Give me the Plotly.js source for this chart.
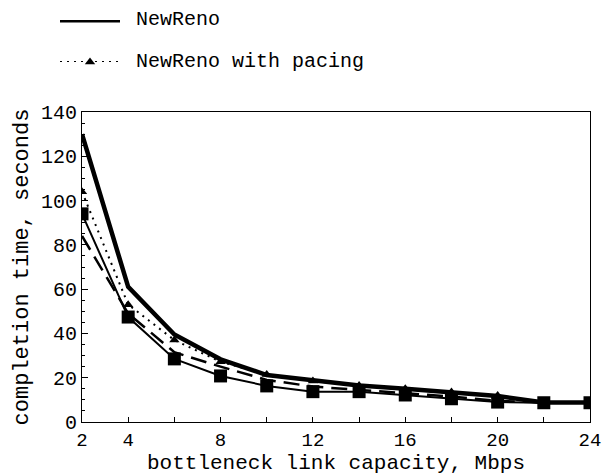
<!DOCTYPE html>
<html>
<head>
<meta charset="utf-8">
<script src="https://cdn.plot.ly/plotly-3.0.1.min.js"></script>
<style>html,body{margin:0;padding:0;background:#fff;}#chart{width:608px;height:475px;}</style>
</head>
<body>
<div id="chart"></div>
<script>
// Data
const capacity = [2, 4, 6, 8, 10, 12, 14, 16, 18, 20, 22, 24];
const newReno = [130, 61, 39.5, 28.3, 21.2, 19, 16.5, 15, 13.4, 11.7, 8.8, 8.8];
const newRenoPacing = [104, 53, 37, 27.2, 21.5, 18.5, 16.5, 15, 13.6, 12, 8.8, 8.8];
const dashedSeries = [84, 49, 31.5, 25, 19, 16, 14.5, 13, 11.5, 9.5, 8.8, 8.8];
const squareSeries = [94, 47.4, 28.5, 20.8, 16.3, 13.7, 13.7, 12.2, 10.5, 9, 8.7, 8.7];
const xTickVals = [2, 4, 6, 8, 10, 12, 14, 16, 18, 20, 22, 24];
const xTickText = ['2', '4', '', '8', '', '12', '', '16', '', '20', '', '24'];
const legendNames = ['NewReno', 'NewReno with pacing'];

const FONT = 'Liberation Mono, Courier New, monospace';
const W = 608, H = 475, ML = 10, MR = 18, MT = 6, MB = 53;
const PW = W - ML - MR, PH = H - MT - MB;
const px = v => (v - ML) / PW;          // pixel x -> paper x
const py = v => (H - MB - v) / PH;      // pixel y -> paper y
const PLOT_LEFT = 82, PLOT_TOP = 112;

const traces = [
  {x: capacity, y: newReno, mode: 'lines', line: {color: '#000', width: 4.5}, showlegend: false},
  {x: capacity, y: newRenoPacing, mode: 'lines+markers', line: {color: '#000', width: 2, dash: '2px,5px'},
   marker: {symbol: 'triangle-up', size: 9, color: '#000'}, showlegend: false},
  {x: capacity, y: dashedSeries, mode: 'lines', line: {color: '#000', width: 2.5, dash: '16px,8px'}, showlegend: false},
  {x: capacity, y: squareSeries, mode: 'lines+markers', line: {color: '#000', width: 2},
   marker: {symbol: 'square', size: 13, color: '#000'}, showlegend: false},
  // legend samples on a helper axis
  {x: [0, 1], y: [1, 1], xaxis: 'x2', yaxis: 'y2', mode: 'lines', line: {color: '#000', width: 5},
   showlegend: false, hoverinfo: 'skip', cliponaxis: false},
  {x: [0, 1], y: [0, 0], xaxis: 'x2', yaxis: 'y2', mode: 'lines',
   line: {color: '#000', width: 2, dash: '2px,5px'}, showlegend: false, hoverinfo: 'skip', cliponaxis: false},
  {x: [0.5], y: [0], xaxis: 'x2', yaxis: 'y2', mode: 'markers', cliponaxis: false,
   marker: {symbol: 'triangle-up', size: 9, color: '#000'}, showlegend: false, hoverinfo: 'skip'}
];

const layout = {
  width: W, height: H,
  margin: {l: ML, r: MR, t: MT, b: MB, pad: 0},
  paper_bgcolor: '#fff', plot_bgcolor: 'rgba(0,0,0,0)',
  showlegend: false,
  font: {family: FONT, color: '#000', size: 19},
  xaxis: {
    domain: [px(PLOT_LEFT), 1], anchor: 'y',
    range: [2, 24], tickmode: 'array', tickvals: xTickVals, ticktext: xTickText,
    ticks: 'inside', ticklen: 5, tickcolor: '#000', showgrid: false, zeroline: false,
    showline: true, linecolor: '#000', linewidth: 1, mirror: true,
    tickfont: {family: FONT, size: 19},
    title: {text: 'bottleneck link capacity, Mbps', font: {family: FONT, size: 21}, standoff: 4}
  },
  yaxis: {
    domain: [0, py(PLOT_TOP)], anchor: 'x',
    range: [0, 140], dtick: 20, ticks: 'inside', ticklen: 6, tickcolor: '#000',
    minor: {dtick: 5, ticks: 'inside', ticklen: 3, tickcolor: '#000', showgrid: false},
    showgrid: false, zeroline: false,
    showline: true, linecolor: '#000', linewidth: 1, mirror: true,
    tickfont: {family: FONT, size: 20},
    title: {text: 'completion time, seconds', font: {family: FONT, size: 22}, standoff: 6}
  },
  xaxis2: {domain: [px(60), px(120)], range: [0, 1], anchor: 'y2', visible: false, fixedrange: true},
  yaxis2: {domain: [py(62), py(20)], range: [0, 1], anchor: 'x2', visible: false, fixedrange: true},
  annotations: [
    {xref: 'paper', yref: 'paper', x: px(134), y: py(20), xanchor: 'left', yanchor: 'middle',
     text: legendNames[0], showarrow: false, font: {family: FONT, size: 20, color: '#000'}},
    {xref: 'paper', yref: 'paper', x: px(134), y: py(62), xanchor: 'left', yanchor: 'middle',
     text: legendNames[1], showarrow: false, font: {family: FONT, size: 20, color: '#000'}}
  ]
};

Plotly.newPlot('chart', traces, layout, {displayModeBar: false, staticPlot: true});
</script>
</body>
</html>
